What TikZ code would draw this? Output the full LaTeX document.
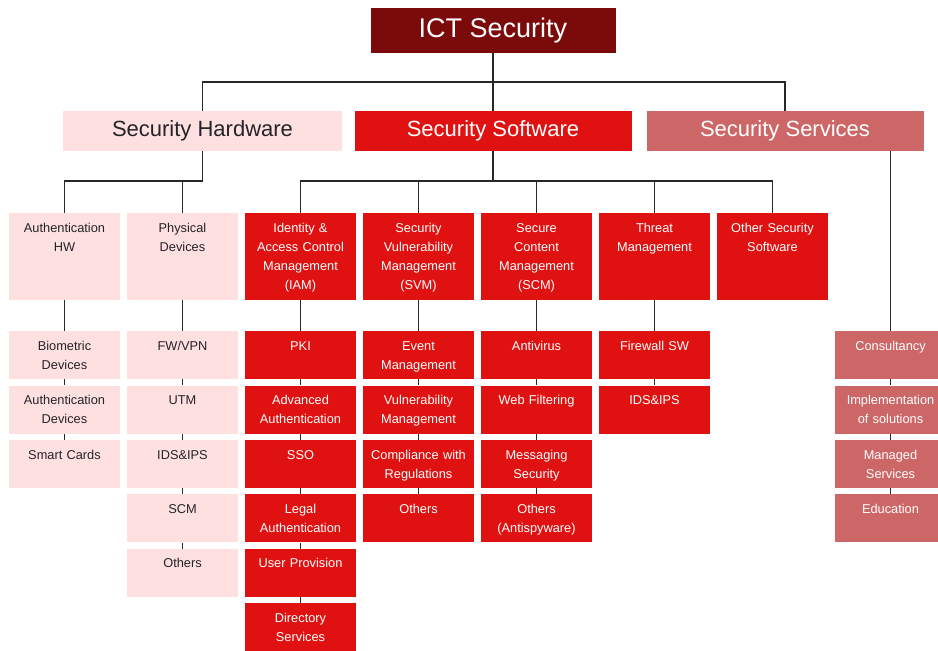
\documentclass[tikz,border=0pt]{standalone}
\usepackage{fontspec}
\setmainfont{Liberation Sans}
\usetikzlibrary{positioning}

\definecolor{ictred}{RGB}{123,10,10}
\definecolor{swred}{RGB}{224,18,17}
\definecolor{hwpink}{RGB}{254,224,225}
\definecolor{svrose}{RGB}{205,103,103}
\definecolor{hwtext}{RGB}{35,35,40}
\definecolor{linegray}{RGB}{40,40,40}

\begin{document}
\begin{tikzpicture}
            [x=1pt, y=-1pt,
            block/.style={
                rectangle,
                inner xsep=2pt,
                inner ysep=0pt,
                anchor=north,
                align=center,
                text width=107pt,
                text height=19pt,
                font=\fontsize{12.8}{19}\selectfont
            },
            head/.style={block, text depth=68pt},
            leaf/.style={block, text depth=29pt},
            topblock/.style={
                rectangle,
                inner sep=0pt,
                minimum width=277pt,
                minimum height=40pt,
                font=\fontsize{22}{26}\selectfont
            },
            line/.style={
                draw=linegray, line width=1.7pt
            },
            hwbox/.style={fill=hwpink, text=hwtext},
            swbox/.style={fill=swred, text=white},
            svbox/.style={fill=svrose, text=white}
            ]
            \useasboundingbox (0,0) rectangle (938,651);

            % Root and first level
            \node[rectangle, fill=ictred, text=white, inner sep=0pt,
                  minimum width=245pt, minimum height=45pt,
                  font=\fontsize{27}{30}\selectfont] (ict) at (493,30.5) {ICT Security};
            \node[topblock, hwbox, minimum width=279pt] (hw) at (202.5,131) {Security Hardware};
            \node[topblock, swbox] (sw) at (493,131) {Security Software};
            \node[topblock, svbox] (sv) at (785,131) {Security Services};

            \coordinate (topbar) at (493,82);
            \draw [line] (ict) -- (sw);
            \draw [line] (hw.north) |- (topbar) -| (sv.north);

            % Second level
            \foreach \nm/\c/\sty/\txt in {authhw/0/hwbox/{Authentication\\HW},
                    phys/1/hwbox/{Physical\\Devices},
                    iam/2/swbox/{Identity \&\\Access Control\\Management\\(IAM)},
                    svm/3/swbox/{Security\\Vulnerability\\Management\\(SVM)},
                    scm/4/swbox/{Secure\\Content\\Management\\(SCM)},
                    threat/5/swbox/{Threat\\Management},
                    other/6/swbox/{Other Security\\Software}}{
                \node[head, \sty] (\nm) at ({64.5+118*\c},213) {\txt};
            }

            \coordinate (hwbar) at (202.5,181);
            \draw [line] (hw.south) -- (hwbar) -| (authhw.north);
            \draw [line] (phys.north) -- (phys.north |- hwbar);

            \coordinate (swbar) at (493,181);
            \draw [line] (sw.south) -- (swbar);
            \draw [line] (iam.north) |- (swbar) -| (other.north);
            \foreach \nm in {svm, scm, threat}{
                \draw [line] (\nm.north) -- (\nm.north |- swbar);
            }

            % Leaves, one column at a time
            \foreach \t [count=\k, remember=\k as \j (initially 0)] in {{Biometric\\Devices}, {Authentication\\Devices}, Smart Cards}{
                \node[leaf, hwbox] (authhw-\k) at (64.5,{331+54.4*(\k-1)}) {\t};
                \ifnum\k=1 \draw [line] (authhw) -- (authhw-\k); \else \draw [line] (authhw-\j) -- (authhw-\k); \fi
            }
            \foreach \t [count=\k, remember=\k as \j (initially 0)] in {FW/VPN, UTM, IDS\&IPS, SCM, Others}{
                \node[leaf, hwbox] (phys-\k) at (182.5,{331+54.4*(\k-1)}) {\t};
                \ifnum\k=1 \draw [line] (phys) -- (phys-\k); \else \draw [line] (phys-\j) -- (phys-\k); \fi
            }
            \foreach \t [count=\k, remember=\k as \j (initially 0)] in {PKI, {Advanced\\Authentication}, SSO, {Legal\\Authentication}, User Provision, {Directory\\Services}}{
                \node[leaf, swbox] (iam-\k) at (300.5,{331+54.4*(\k-1)}) {\t};
                \ifnum\k=1 \draw [line] (iam) -- (iam-\k); \else \draw [line] (iam-\j) -- (iam-\k); \fi
            }
            \foreach \t [count=\k, remember=\k as \j (initially 0)] in {{Event\\Management}, {Vulnerability\\Management}, {Compliance with\\Regulations}, Others}{
                \node[leaf, swbox] (svm-\k) at (418.5,{331+54.4*(\k-1)}) {\t};
                \ifnum\k=1 \draw [line] (svm) -- (svm-\k); \else \draw [line] (svm-\j) -- (svm-\k); \fi
            }
            \foreach \t [count=\k, remember=\k as \j (initially 0)] in {Antivirus, Web Filtering, {Messaging\\Security}, {Others\\(Antispyware)}}{
                \node[leaf, swbox] (scm-\k) at (536.5,{331+54.4*(\k-1)}) {\t};
                \ifnum\k=1 \draw [line] (scm) -- (scm-\k); \else \draw [line] (scm-\j) -- (scm-\k); \fi
            }
            \foreach \t [count=\k, remember=\k as \j (initially 0)] in {Firewall SW, IDS\&IPS}{
                \node[leaf, swbox] (threat-\k) at (654.5,{331+54.4*(\k-1)}) {\t};
                \ifnum\k=1 \draw [line] (threat) -- (threat-\k); \else \draw [line] (threat-\j) -- (threat-\k); \fi
            }
            \foreach \t [count=\k, remember=\k as \j (initially 0)] in {Consultancy, {Implementation\\of solutions}, {Managed\\Services}, Education}{
                \node[leaf, svbox] (sv-\k) at (890.5,{331+54.4*(\k-1)}) {\t};
                \ifnum\k=1 \draw [line] (sv.south -| sv-\k.north) -- (sv-\k); \else \draw [line] (sv-\j) -- (sv-\k); \fi
            }
\end{tikzpicture}
\end{document}
